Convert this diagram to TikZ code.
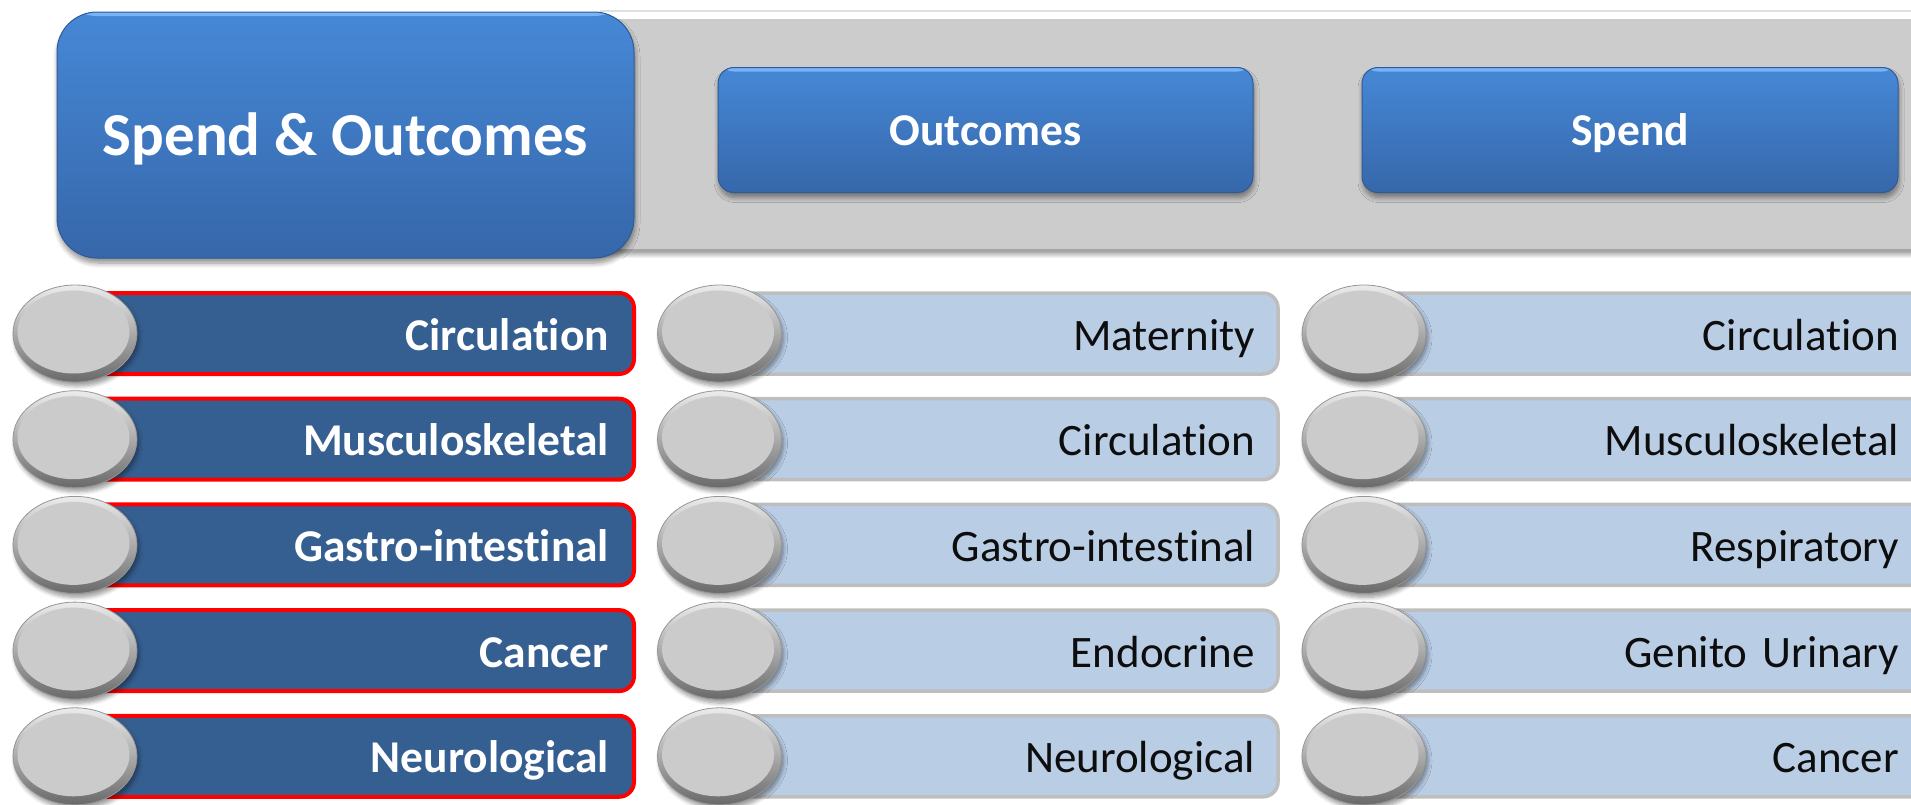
\documentclass[tikz,border=0pt]{standalone}
\usepackage{fontspec}
\setmainfont{Carlito}[Ligatures={NoCommon}]
\usetikzlibrary{shapes.geometric,shadows,shadows.blur}
\definecolor{bandgray}{RGB}{204,204,204}
\definecolor{bandedge}{RGB}{165,165,165}
\definecolor{blueTop}{RGB}{70,136,214}
\definecolor{blueBot}{RGB}{54,103,170}
\definecolor{blueEdge}{RGB}{47,90,150}
\definecolor{blueHi}{RGB}{120,180,245}
\definecolor{darkbar}{RGB}{54,95,145}
\definecolor{lightbar}{RGB}{185,205,229}
\definecolor{lightedge}{RGB}{190,190,190}
\definecolor{ballgray}{RGB}{203,203,203}
\definecolor{ballTop}{RGB}{236,236,236}
\definecolor{ballBot}{RGB}{105,105,105}
\definecolor{ballEdge}{RGB}{150,150,150}
\definecolor{txtdark}{RGB}{13,13,13}
\begin{document}
\begin{tikzpicture}[x=1pt,y=-1pt,
  softshadow/.style={blur shadow={shadow xshift=1pt, shadow yshift=-5pt, shadow blur radius=5pt, shadow blur steps=8, shadow opacity=45}},
  bluebox/.style={top color=blueTop, bottom color=blueBot, draw=blueEdge, line width=1pt,
    text=white, softshadow, inner sep=0pt, text depth=0pt,
    path picture={\fill[blueHi] (path picture bounding box.north west) rectangle ([yshift=-4pt]path picture bounding box.north east);}},
  bigbox/.style={bluebox, rounded corners=40pt, minimum width=577pt, minimum height=246pt,
    font=\bfseries\fontsize{61}{68}\selectfont, text height=40pt},
  hdr/.style={bluebox, rounded corners=16pt, minimum height=125pt,
    font=\bfseries\fontsize{45.5}{52}\selectfont, text height=30pt},
  barbase/.style={rounded corners=15pt, minimum height=81pt, inner xsep=0pt, inner ysep=0pt,
    align=right, text height=33pt, text depth=0pt},
  redbar/.style={barbase, draw=red, line width=4pt, fill=darkbar, text=white,
    font=\bfseries\fontsize{45.5}{52}\selectfont},
  bluebar/.style={barbase, draw=lightedge, line width=3.5pt, fill=lightbar, text=txtdark,
    font=\fontsize{45}{52}\selectfont},
  ball/.style={ellipse, minimum width=124pt, minimum height=97pt, inner sep=0pt,
    top color=ballTop, bottom color=ballBot, draw=ballEdge, line width=0.8pt,
    blur shadow={shadow xshift=2pt, shadow yshift=-4pt, shadow blur radius=4pt, shadow blur steps=6, shadow opacity=40},
    path picture={\fill[ballgray] ([shift={(-1.5pt,1.5pt)}]path picture bounding box.center) ellipse [x radius=56pt, y radius=41.5pt];}}
]
\useasboundingbox (0,0) rectangle (1911,804);
\clip (0,0) rectangle (1911,804);
% grey header band
\draw[black!12, line width=1.5pt] (600,11) -- (1911,11);
\fill[bandgray] (600,19) rectangle (1930,251);
\shade[top color=black!40, bottom color=white] (600,250) rectangle (1930,258);
\draw[bandedge, line width=2pt] (600,250) -- (1930,250);
% header boxes
\node[bigbox] (main) at (345.5,135) {Spend \& Outcomes};
\node[hdr, minimum width=535pt] (outc) at (985.5,130) {Outcomes};
\node[hdr, minimum width=536pt] (spend) at (1630,130) {Spend};
% rows
\foreach \i/\a/\b/\c in {0/Circulation/Maternity/Circulation,
    1/Musculoskeletal/Circulation/Musculoskeletal,
    2/Gastro-intestinal/Gastro-intestinal/Respiratory,
    3/Cancer/Endocrine/Genito Urinary,
    4/Neurological/Neurological/Cancer}{
  \pgfmathsetmacro\y{333.5+105.7*\i}
  \node[redbar, minimum width=562pt, text width=512pt] (l\i) at (353,\y) {\a};
  \node[bluebar, minimum width=561pt, text width=515pt] (m\i) at (997.5,\y) {\b};
  \node[bluebar, minimum width=588pt, text width=486pt] (r\i) at (1656,\y) {\c};
  \node[ball] (bl\i) at (75,\y) {};
  \node[ball] (bm\i) at (719.5,\y) {};
  \node[ball] (br\i) at (1364,\y) {};
}
\end{tikzpicture}
\end{document}
